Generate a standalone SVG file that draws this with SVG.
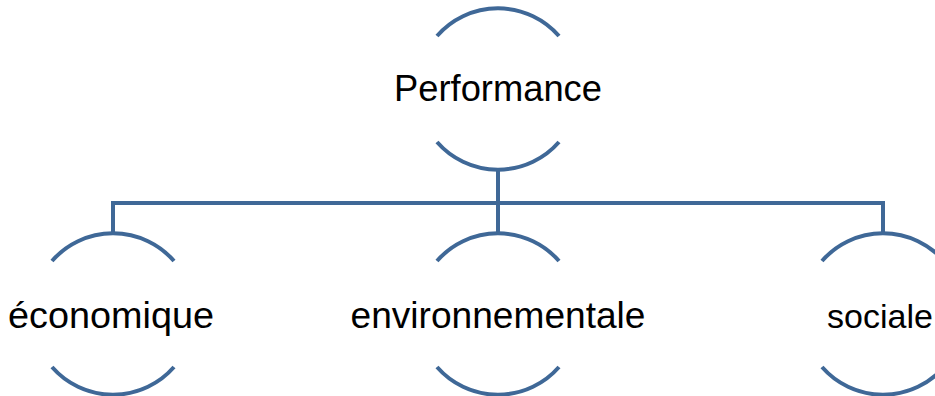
<svg xmlns="http://www.w3.org/2000/svg" width="935" height="396" viewBox="0 0 935 396">
<style>
.arc{fill:none;stroke:#3F6897;stroke-width:4}
.conn{fill:none;stroke:#3F6897;stroke-width:4}
text{font-family:"Liberation Sans",Arial,sans-serif;font-size:36px;fill:#000;text-anchor:middle}
</style>
<rect width="935" height="396" fill="#fff"/>
<g id="connectors">
<path class="conn" d="M498 171 V203 M113 234 V203 H883 V234 M498 203 V234"/>
</g>
<g id="performance">
<path class="arc" d="M437 36 A81 81 0 0 1 559 36"/>
<path class="arc" d="M437 142 A81 81 0 0 0 559 142"/>
<text x="498" y="101" textLength="208" lengthAdjust="spacingAndGlyphs">Performance</text>
</g>
<g id="economique">
<path class="arc" d="M52 261 A81 81 0 0 1 174 261"/>
<path class="arc" d="M52 367 A81 81 0 0 0 174 367"/>
<text x="111" y="328" textLength="206" lengthAdjust="spacingAndGlyphs">économique</text>
</g>
<g id="environnementale">
<path class="arc" d="M437 261 A81 81 0 0 1 559 261"/>
<path class="arc" d="M437 367 A81 81 0 0 0 559 367"/>
<text x="498" y="328" textLength="295" lengthAdjust="spacingAndGlyphs">environnementale</text>
</g>
<g id="sociale">
<path class="arc" d="M822 261 A81 81 0 0 1 944 261"/>
<path class="arc" d="M822 367 A81 81 0 0 0 944 367"/>
<text x="880" y="328" style="font-size:34px">sociale</text>
</g>
</svg>
